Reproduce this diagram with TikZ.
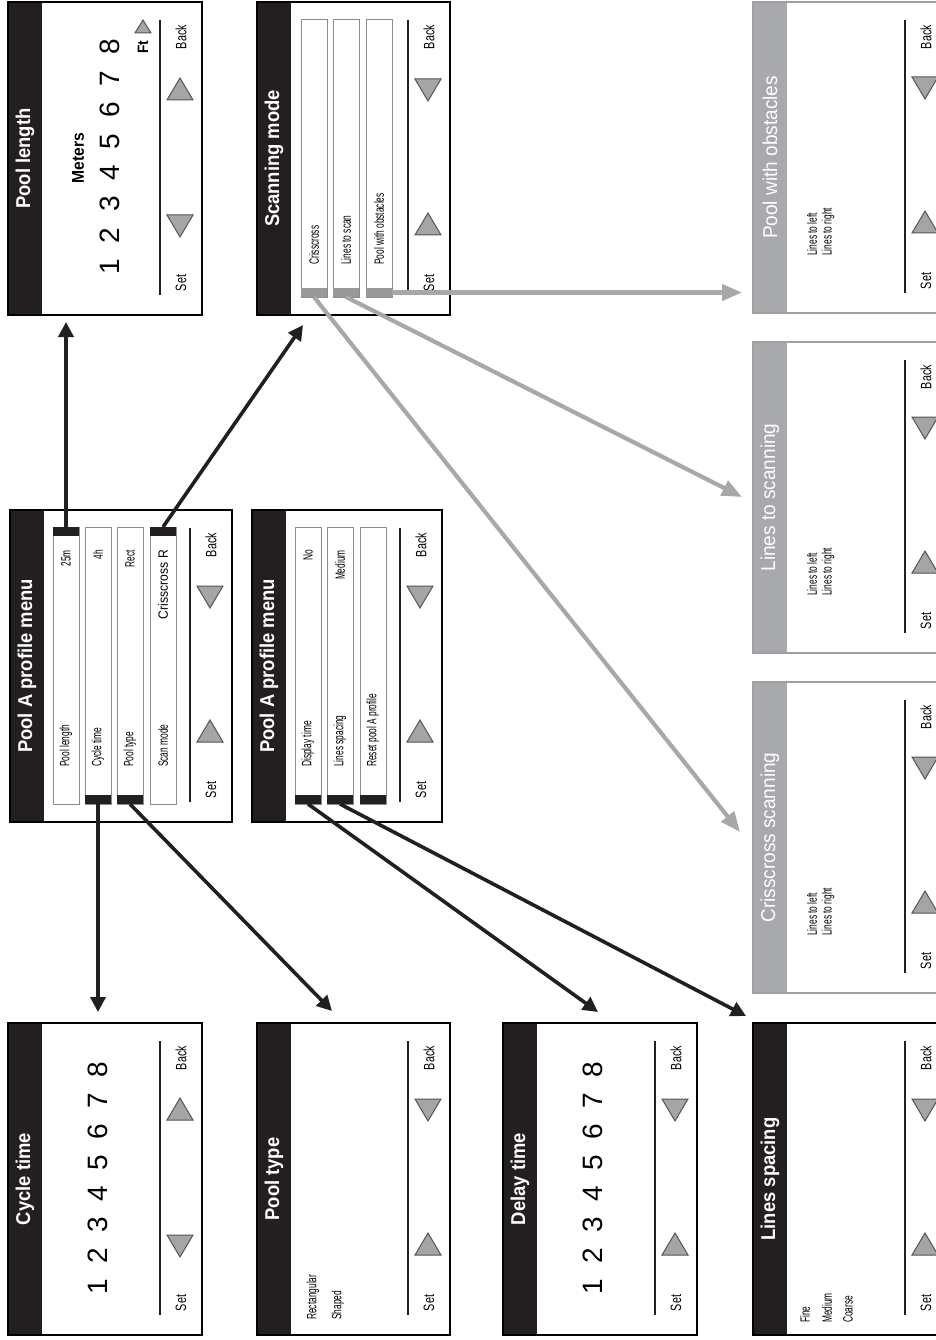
\documentclass[tikz,border=0pt]{standalone}
\usepackage{fontspec}
\setmainfont{Liberation Sans}
\newfontfamily\condfont[FakeStretch=0.62]{Liberation Sans}
\newfontfamily\valfont[FakeStretch=0.9]{Liberation Sans}
\newfontfamily\sbfont[FakeStretch=0.72]{Liberation Sans}
\newfontfamily\ttlfont[FakeStretch=0.92]{Liberation Sans}
\newfontfamily\gtlfont[FakeStretch=0.95]{Liberation Sans}
\usetikzlibrary{arrows.meta}
\definecolor{barblack}{HTML}{231F20}
\definecolor{bargray}{HTML}{A7A9AC}
\definecolor{trifill}{HTML}{A5A5A5}
\definecolor{triline}{HTML}{555555}
\definecolor{tabgray}{HTML}{999999}
\definecolor{arrgray}{HTML}{A8A8A8}
\definecolor{itemline}{HTML}{8C8C8C}
\definecolor{framegray}{HTML}{A0A0A0}
\tikzset{
 smalltxt/.style={font=\condfont\fontsize{13.5}{15}\selectfont, inner sep=0pt},
 sbtxt/.style={font=\sbfont\fontsize{15}{17}\selectfont, inner sep=0pt},
 titletxt/.style={font=\ttlfont\bfseries\fontsize{20}{22}\selectfont, text=white, inner sep=0pt},
 gtitletxt/.style={font=\gtlfont\fontsize{20}{22}\selectfont, text=white, inner sep=0pt},
 digittxt/.style={font=\fontsize{28}{30}\selectfont, inner sep=0pt},
 meterstxt/.style={font=\ttlfont\bfseries\fontsize{17}{19}\selectfont, inner sep=0pt},
 fttxt/.style={font=\ttlfont\bfseries\fontsize{15}{17}\selectfont, inner sep=0pt},
 sepline/.style={line width=2.8pt, draw=barblack},
 tristyle/.style={fill=trifill, draw=triline, line width=1pt, line join=miter},
 itembox/.style={draw=itemline, fill=white, line width=1pt},
 barrow/.style={line width=3.6pt, draw=barblack, -{Triangle[length=15pt,width=15pt]}},
 garrow/.style={line width=4.2pt, draw=arrgray, -{Triangle[length=20pt,width=16pt]}},
 panelscope/.style={rotate=90, transform shape},
}
% #1 prefix #2 title #3 bar colour #4 frame colour #5 title style
\newcommand\panelbase[5]{%
  \fill[white] (0,0) rectangle (\pnlW,\pnlH);
  \fill[#3] (0,{\pnlH-34}) rectangle (\pnlW,\pnlH);
  \draw[#4, line width=1.5pt] (0,0) rectangle (\pnlW,\pnlH);
  \node[#5] (#1title) at ({\pnlW/2},{\pnlH-17}) {#2};
  \draw[sepline] (20,42) -- ({\pnlW-18},42);
  \node[sbtxt] (#1set) at (32,21) {Set};
  \node[sbtxt] (#1back) at ({\pnlW-35},21) {Back};
}
\newcommand\tri[2]{%
  \draw[tristyle] ({#1-11*(#2)},9) -- ({#1-11*(#2)},35) -- ({#1+11*(#2)},22) -- cycle;}
\newcommand\triout{\tri{89}{-1}\tri{226}{1}}
\newcommand\triin{\tri{91}{1}\tri{225}{-1}}
% #1 name #2 v-low #3 label u #4 label #5 value #6 tab u0 #7 tab colour #8 anchor u
\newcommand\mitem[8]{%
  \draw[itembox] (18,#2) rectangle (295,{#2+26});
  \fill[#7] (#6,#2) rectangle ({#6+9},{#2+26});
  \node[smalltxt, anchor=west] (#1lab) at (#3,{#2+13}) {#4};
  \node[smalltxt, anchor=east] (#1val) at (272,{#2+13}) {#5};
  \coordinate (#1tab) at (#8,{#2+13});
}
\begin{document}
\begin{tikzpicture}[x=1pt,y=1pt]
\useasboundingbox (0,0) rectangle (936,-1340);
\clip (0,0) rectangle (936,-1340);

% ---------- Pool length
\begin{scope}[shift={(202,-315)}, panelscope]
\def\pnlW{313}\def\pnlH{194}
\panelbase{pl}{Pool length}{barblack}{black}{titletxt}
\triout
\foreach \dg in {1,...,8} \node[digittxt] (pld\dg) at ({48+(\dg-1)*31.4},92) {\dg};
\node[meterstxt] (plmeters) at (157,124) {Meters};
\node[fttxt] (plft) at (268,59) {Ft};
\draw[tristyle] (282,51) -- (282,67) -- (295,59) -- cycle;
\end{scope}

% ---------- Scanning mode
\begin{scope}[shift={(450,-315)}, panelscope]
\def\pnlW{313}\def\pnlH{193}
\panelbase{sm}{Scanning mode}{barblack}{black}{titletxt}
\triin
\mitem{smi1}{123}{50}{Crisscross}{}{18}{tabgray}{18}
\mitem{smi2}{91}{50}{Lines to scan}{}{18}{tabgray}{18}
\mitem{smi3}{58}{50}{Pool with obstacles}{}{18}{tabgray}{18}
\coordinate (smi3side) at (22.5,58);
\end{scope}

% ---------- Pool A profile menu 1
\begin{scope}[shift={(232,-822)}, panelscope]
\def\pnlW{312}\def\pnlH{222}
\panelbase{ma}{Pool A profile menu}{barblack}{black}{titletxt}
\triin
\mitem{mai1}{153}{55}{Pool length}{25m}{286}{barblack}{295}
\mitem{mai2}{121}{55}{Cycle time}{4h}{18}{barblack}{18}
\mitem{mai3}{89}{55}{Pool type}{Rect}{18}{barblack}{18}
\mitem{mai4}{56}{55}{Scan mode}{\valfont Crisscross R}{286}{barblack}{295}
\end{scope}

% ---------- Pool A profile menu 2
\begin{scope}[shift={(442,-822)}, panelscope]
\def\pnlW{312}\def\pnlH{190}
\panelbase{mb}{Pool A profile menu}{barblack}{black}{titletxt}
\triin
\mitem{mbi1}{121}{55}{Display time}{No}{18}{barblack}{18}
\mitem{mbi2}{89}{55}{Lines spacing}{Medium}{18}{barblack}{18}
\mitem{mbi3}{56}{55}{Reset pool A profile}{}{18}{barblack}{18}
\end{scope}

% ---------- Cycle time
\begin{scope}[shift={(202,-1335)}, panelscope]
\def\pnlW{312}\def\pnlH{194}
\panelbase{ct}{Cycle time}{barblack}{black}{titletxt}
\triout
\foreach \dg in {1,...,8} \node[digittxt] (ctd\dg) at ({48+(\dg-1)*31},104) {\dg};
\end{scope}

% ---------- Pool type
\begin{scope}[shift={(450,-1335)}, panelscope]
\def\pnlW{312}\def\pnlH{193}
\panelbase{pt}{Pool type}{barblack}{black}{titletxt}
\triin
\node[smalltxt, anchor=west] (ptrect) at (15,137) {Rectangular};
\node[smalltxt, anchor=west] (ptshaped) at (15,112) {Shaped};
\end{scope}

% ---------- Delay time
\begin{scope}[shift={(697,-1335)}, panelscope]
\def\pnlW{312}\def\pnlH{194}
\panelbase{dt}{Delay time}{barblack}{black}{titletxt}
\triin
\foreach \dg in {1,...,8} \node[digittxt] (dtd\dg) at ({48+(\dg-1)*31},104) {\dg};
\end{scope}

% ---------- Lines spacing
\begin{scope}[shift={(947,-1335)}, panelscope]
\def\pnlW{312}\def\pnlH{194}
\panelbase{ls}{Lines spacing}{barblack}{black}{titletxt}
\triin
\node[smalltxt, anchor=west] (lsfine) at (12,142) {Fine};
\node[smalltxt, anchor=west] (lsmed) at (12,120) {Medium};
\node[smalltxt, anchor=west] (lscoarse) at (12,99) {Coarse};
\end{scope}

% ---------- Pool with obstacles
\begin{scope}[shift={(947,-313)}, panelscope]
\def\pnlW{311}\def\pnlH{194}
\panelbase{po}{Pool with obstacles}{bargray}{framegray}{gtitletxt}
\triin
\node[smalltxt, anchor=west] (poleft) at (57,135) {Lines to left};
\node[smalltxt, anchor=west] (poright) at (57,119) {Lines to right};
\end{scope}

% ---------- Lines to scanning
\begin{scope}[shift={(947,-653)}, panelscope]
\def\pnlW{311}\def\pnlH{194}
\panelbase{lt}{Lines to scanning}{bargray}{framegray}{gtitletxt}
\triin
\node[smalltxt, anchor=west] (ltleft) at (57,135) {Lines to left};
\node[smalltxt, anchor=west] (ltright) at (57,119) {Lines to right};
\end{scope}

% ---------- Crisscross scanning
\begin{scope}[shift={(947,-993)}, panelscope]
\def\pnlW{311}\def\pnlH{194}
\panelbase{cs}{Crisscross scanning}{bargray}{framegray}{gtitletxt}
\triin
\node[smalltxt, anchor=west] (csleft) at (57,135) {Lines to left};
\node[smalltxt, anchor=west] (csright) at (57,119) {Lines to right};
\end{scope}

% ---------- connector ends
\coordinate (plin) at (66,-322);
\coordinate (smin) at (303,-325);
\coordinate (ctin) at (98,-1012);
\coordinate (ptin) at (332,-1011);
\coordinate (dtin) at (598,-1012);
\coordinate (lsin) at (746,-1016);
\coordinate (poin) at (742,-292.5);
\coordinate (ltsin) at (742,-497);
\coordinate (csin) at (740,-832);

% ---------- connectors
\draw[garrow] (smi3side) -- (poin);
\draw[garrow] (smi2tab) -- (ltsin);
\draw[garrow] (smi1tab) -- (csin);
\draw[barrow] (mai1tab) -- (plin);
\draw[barrow] (mai4tab) -- (smin);
\draw[barrow] (mai2tab) -- (ctin);
\draw[barrow] (mai3tab) -- (ptin);
\draw[barrow] (mbi1tab) -- (dtin);
\draw[barrow] (mbi2tab) -- (lsin);
\end{tikzpicture}
\end{document}
